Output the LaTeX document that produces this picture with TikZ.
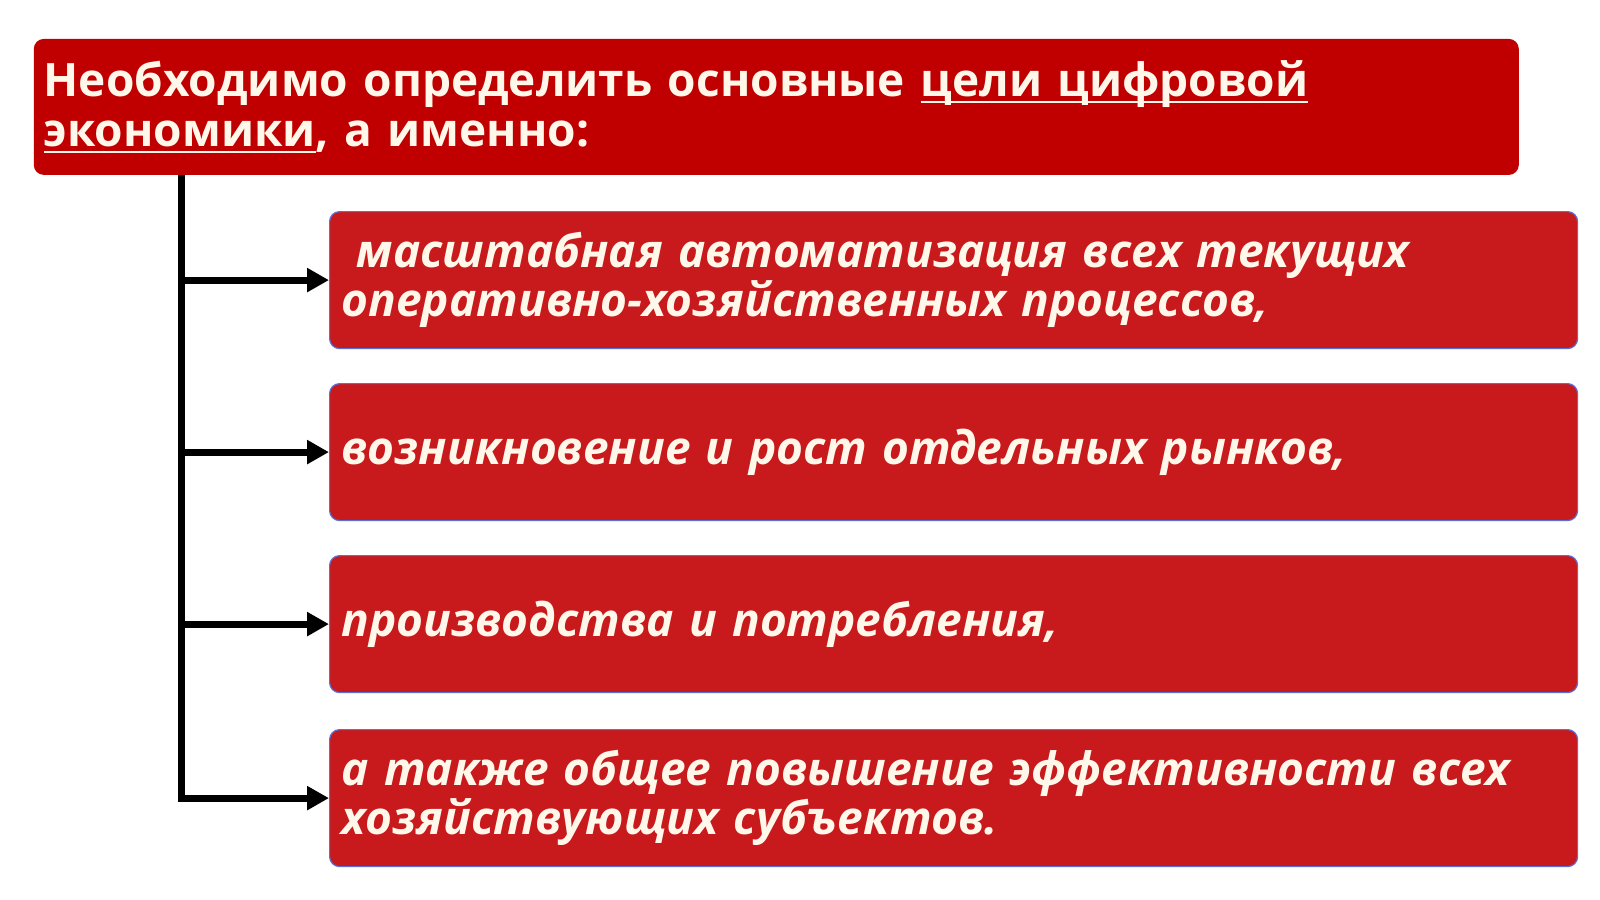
\documentclass[tikz,border=0pt]{standalone}
\usepackage{fontspec}
\setmainfont{Open Sans}
\usetikzlibrary{arrows.meta}
\definecolor{topred}{HTML}{C00000}
\definecolor{boxred}{HTML}{C8191C}
\definecolor{boxedge}{HTML}{5D6FD2}
\definecolor{cream}{HTML}{FFF8EA}
\newcommand\myul[1]{\leavevmode\setbox0\hbox{#1}\rlap{\rule[-7pt]{\wd0}{2.6pt}}\box0}
\tikzset{
  titlebox/.style={fill=topred, rounded corners=10pt, anchor=north west,
    text width=1465pt, inner xsep=10pt, inner ysep=0pt, minimum height=136pt,
    align=left, text=cream, font=\fontsize{46}{50}\selectfont\bfseries},
  goalbox/.style={fill=boxred, draw=boxedge, line width=1.2pt, rounded corners=10pt,
    anchor=north west, text width=1224pt, inner xsep=12pt, inner ysep=0pt,
    minimum height=137pt, align=left, text=cream,
    font=\fontsize{46}{49}\selectfont\bfseries\itshape},
  conn/.style={line width=7pt, -{Triangle[length=22pt,width=23pt]}}
}
\begin{document}
\begin{tikzpicture}[x=1pt,y=-1pt]
\useasboundingbox (0,0) rectangle (1600,899);
\fill[white] (0,0) rectangle (1600,899);
\node[titlebox] (title) at (33.6,38.7) {Необходимо определить основные \myul{цели цифровой}\\\myul{экономики}, а именно:};
\node[goalbox] (b1) at (329,211) {\ масштабная автоматизация всех текущих\\оперативно-хозяйственных процессов,};
\node[goalbox] (b2) at (329,383) {возникновение и рост отдельных рынков,};
\node[goalbox] (b3) at (329,555) {производства и потребления,};
\node[goalbox] (b4) at (329,729) {а также общее повышение эффективности всех\\хозяйствующих субъектов.};
\coordinate (trunk) at (181,0);
\draw[conn] (trunk |- title.south) |- (b4.west);
\draw[conn] (trunk |- b1.west) -- (b1.west);
\draw[conn] (trunk |- b2.west) -- (b2.west);
\draw[conn] (trunk |- b3.west) -- (b3.west);
\end{tikzpicture}
\end{document}
